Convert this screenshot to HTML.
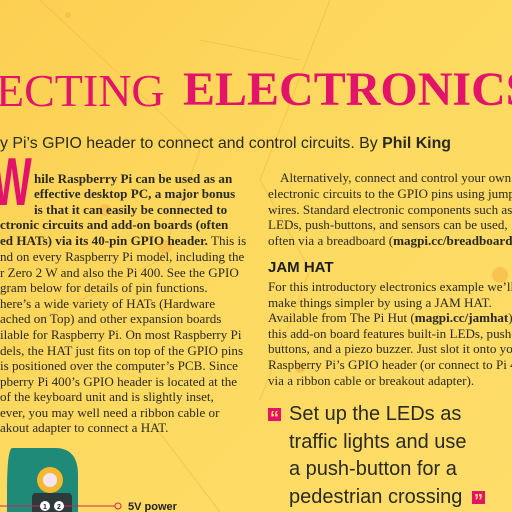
<!DOCTYPE html>
<html><head><meta charset="utf-8"><style>
body{margin:0;width:512px;height:512px;overflow:hidden;position:relative;background:linear-gradient(135deg,#fccf52 0%,#fdd95f 45%,#fedd6a 100%);font-family:"Liberation Serif",serif;color:#2a2a22}
.l{position:absolute;white-space:nowrap;font-size:13.1px;line-height:15px}
b{font-weight:bold}
</style></head><body>
<svg style="position:absolute;left:0;top:0" width="512" height="512">
<g stroke="#f3b845" stroke-width="1" fill="none" opacity="0.6"><path d="M40 0 L200 150 L160 260 L40 320"/><path d="M330 0 L260 180 L310 270 L260 400"/><path d="M200 40 L300 60"/><path d="M150 420 L220 512"/></g>
<g fill="#f6b948" opacity="0.7"><circle cx="68" cy="15" r="3"/><circle cx="105" cy="210" r="6"/><circle cx="165" cy="247" r="7"/><circle cx="500" cy="275" r="8"/><circle cx="300" cy="368" r="5"/></g>
</svg>
<div class="l" style="left:-4px;top:66px;font-size:46px;line-height:50px;color:#e3136a">ECTING</div>
<div class="l" style="left:183px;top:65px;font-size:48px;line-height:50px;color:#e3136a;font-weight:bold">ELECTRONICS</div>
<div class="l" style="left:0;top:135px;font-family:'Liberation Sans',sans-serif;font-size:15.9px;line-height:18px">y Pi’s GPIO header to connect and control circuits. By <b>Phil King</b></div>
<div style="position:absolute;left:-8px;top:146px;font-family:'Liberation Sans',sans-serif;font-weight:bold;font-size:68px;line-height:72px;color:#e3136a;transform:scaleX(0.62);transform-origin:left">W</div>
<div>
<div class="l" style="left:34px;top:171px"><b>hile Raspberry Pi can be used as an</b></div>
<div class="l" style="left:34px;top:186px"><b>effective desktop PC, a major bonus</b></div>
<div class="l" style="left:34px;top:202px"><b>is that it can easily be connected to</b></div>
<div class="l" style="left:0;top:217px"><b>ctronic circuits and add-on boards (often</b></div>
<div class="l" style="left:0;top:233px"><b>ed HATs) via its 40-pin GPIO header.</b> This is</div>
<div class="l" style="left:0;top:249px">nd on every Raspberry Pi model, including the</div>
<div class="l" style="left:0;top:265px">r Zero 2 W and also the Pi 400. See the GPIO</div>
<div class="l" style="left:0;top:280px">gram below for details of pin functions.</div>
<div class="l" style="left:0;top:296px">here’s a wide variety of HATs (Hardware</div>
<div class="l" style="left:0;top:311px">ached on Top) and other expansion boards</div>
<div class="l" style="left:0;top:327px">ilable for Raspberry Pi. On most Raspberry Pi</div>
<div class="l" style="left:0;top:343px">dels, the HAT just fits on top of the GPIO pins</div>
<div class="l" style="left:0;top:358px">is positioned over the computer’s PCB. Since</div>
<div class="l" style="left:0;top:374px">pberry Pi 400’s GPIO header is located at the</div>
<div class="l" style="left:0;top:389px">of the keyboard unit and is slightly inset,</div>
<div class="l" style="left:0;top:405px">ever, you may well need a ribbon cable or</div>
<div class="l" style="left:0;top:420px">akout adapter to connect a HAT.</div>
</div>
<div>
<div class="l" style="left:280px;top:170px">Alternatively, connect and control your own</div>
<div class="l" style="left:268px;top:186px">electronic circuits to the GPIO pins using jumper</div>
<div class="l" style="left:268px;top:202px">wires. Standard electronic components such as</div>
<div class="l" style="left:268px;top:217px">LEDs, push-buttons, and sensors can be used,</div>
<div class="l" style="left:268px;top:233px">often via a breadboard (<b>magpi.cc/breadboard</b>).</div>
<div class="l" style="left:268px;top:259px;font-family:'Liberation Sans',sans-serif;font-weight:bold;font-size:15px;line-height:18px;color:#1e1e1a">JAM HAT</div>
<div class="l" style="left:268px;top:279px">For this introductory electronics example we’ll</div>
<div class="l" style="left:268px;top:295px">make things simpler by using a JAM HAT.</div>
<div class="l" style="left:268px;top:310px">Available from The Pi Hut (<b>magpi.cc/jamhat</b>),</div>
<div class="l" style="left:268px;top:326px">this add-on board features built-in LEDs, push-</div>
<div class="l" style="left:268px;top:341px">buttons, and a piezo buzzer. Just slot it onto your</div>
<div class="l" style="left:268px;top:357px">Raspberry Pi’s GPIO header (or connect to Pi 400</div>
<div class="l" style="left:268px;top:373px">via a ribbon cable or breakout adapter).</div>
</div>
<div style="font-family:'Liberation Sans',sans-serif">
<div style="position:absolute;left:268px;top:408px;width:13px;height:13px;background:#e3136a;color:#fdd95f;font-size:18px;line-height:21px;text-align:center;font-weight:bold">“</div>
<div class="l" style="left:289px;top:401px;font-size:20px;line-height:27.5px;color:#2a2a22">Set up the LEDs as<br>traffic lights and use<br>a push-button for a<br>pedestrian crossing</div>
<div style="position:absolute;left:472px;top:491px;width:13px;height:13px;background:#e3136a;color:#fdd95f;font-size:18px;line-height:21px;text-align:center;font-weight:bold">”</div>
</div>
<svg style="position:absolute;left:0;top:440px" width="260" height="72">
<path d="M7 72 V52 Q7 10 12 8 H55 Q78 8 78 35 V72 Z" fill="#1f8a78"/>
<circle cx="50" cy="40" r="13" fill="#f6b82e"/><circle cx="50" cy="40" r="7" fill="#f4e6f0"/>
<rect x="32" y="53" width="40" height="22" rx="4" fill="#2e3a3a"/>
<circle cx="45" cy="66" r="5" fill="#fff"/><circle cx="59" cy="66" r="5" fill="#fff"/>
<text x="45" y="69" font-size="7" text-anchor="middle" font-family="Liberation Sans" font-weight="bold" fill="#222">1</text>
<text x="59" y="69" font-size="7" text-anchor="middle" font-family="Liberation Sans" font-weight="bold" fill="#222">2</text>
<line x1="0" y1="66" x2="40" y2="66" stroke="#c8265a"/><line x1="64" y1="66" x2="115" y2="66" stroke="#c8265a"/>
<circle cx="118" cy="66" r="3" fill="none" stroke="#c8265a"/>
<text x="128" y="70" font-size="11" font-family="Liberation Sans" font-weight="bold" fill="#222">5V power</text>
</svg>
</body></html>
